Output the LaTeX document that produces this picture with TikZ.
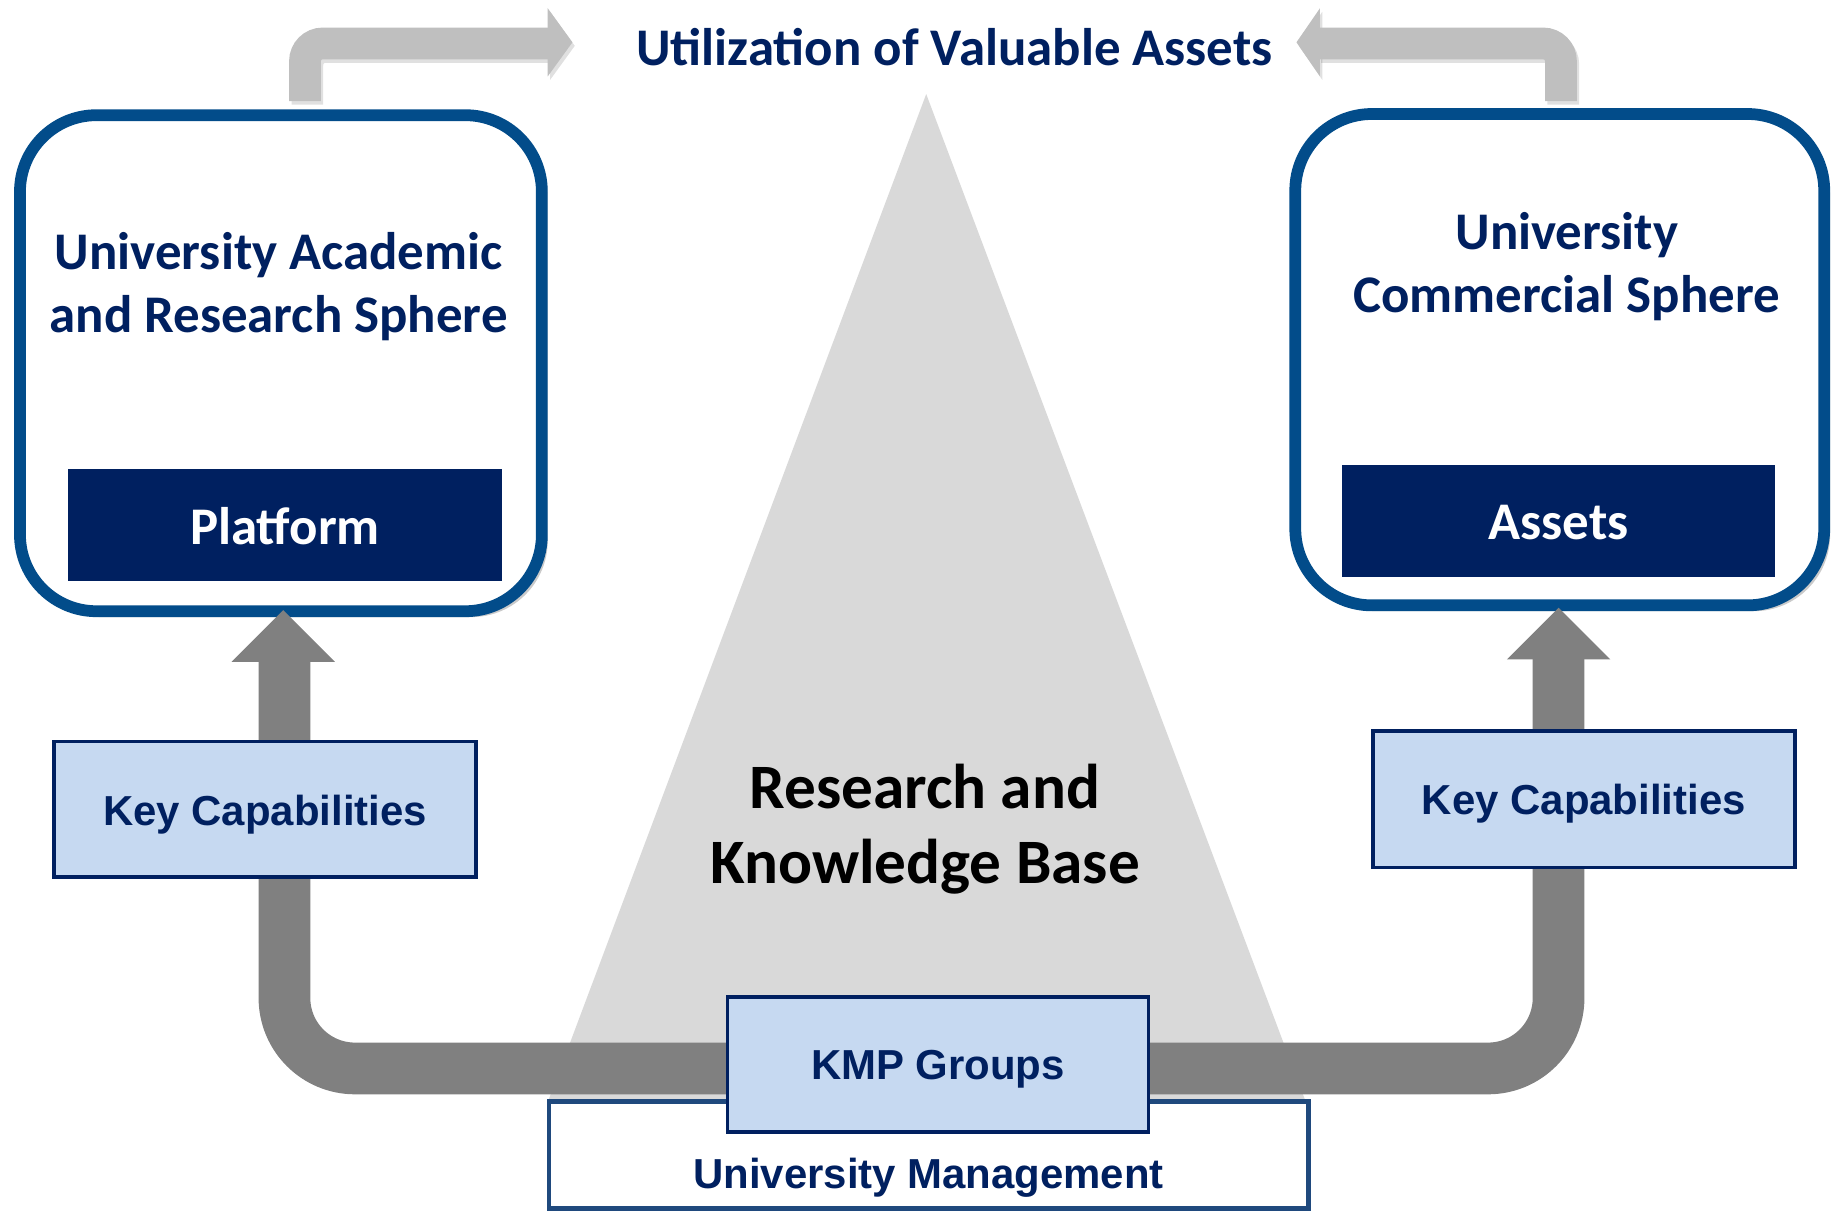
\documentclass[tikz,border=0pt]{standalone}
\usepackage{fontspec}
\setmainfont{Carlito}
\newfontfamily\arialf{Liberation Sans}
\usetikzlibrary{shadows}
\definecolor{navy}{RGB}{0,32,96}
\definecolor{boxblue}{RGB}{2,76,138}
\definecolor{umblue}{RGB}{31,73,125}
\definecolor{lightfill}{RGB}{198,217,241}
\definecolor{darkarrow}{RGB}{128,128,128}
\definecolor{lightarrow}{RGB}{191,191,191}
\definecolor{trigray}{RGB}{217,217,217}
\tikzset{
  roundbox/.style={draw=boxblue, line width=6pt, fill=white, rounded corners=39pt,
    drop shadow={shadow xshift=3pt, shadow yshift=-3pt, opacity=0.35, fill=black!60}},
  darkbox/.style={fill=navy, draw=none},
  capbox/.style={draw=navy, line width=1.8pt, fill=lightfill},
  umbox/.style={draw=umblue, line width=2.4pt, fill=white},
  cal/.style={font=\bfseries\fontsize{27pt}{32pt}\selectfont, text=navy, inner sep=0pt, anchor=base},
  calw/.style={cal, text=white},
  calbig/.style={font=\bfseries\fontsize{32.3pt}{38pt}\selectfont, text=black, inner sep=0pt, anchor=base},
  ari/.style={font=\arialf\bfseries\fontsize{21.4pt}{25pt}\selectfont, text=navy, inner sep=0pt, anchor=base},
  toparrow/.style={draw=lightarrow, line width=16.2pt, rounded corners=9pt},
  topshadow/.style={draw=black, opacity=0.12, line width=16.2pt, rounded corners=9pt},
  bigarrow/.style={draw=darkarrow, line width=26.4pt, rounded corners=36pt},
}
\begin{document}
\begin{tikzpicture}[x=0.6pt,y=-0.6pt]
\useasboundingbox (0,0) rectangle (1568,1031);

% research triangle
\fill[trigray] (788,80) -- (467,935) -- (1110,935) -- cycle;

% title
\node[cal] (title) at (812,56) {Utilization of Valuable Assets};

% top arrows
\coordinate (tlA) at (259.5,86);
\coordinate (tlB) at (259.5,37);
\coordinate (tlC) at (467,37);
\coordinate (trA) at (1328,86);
\coordinate (trB) at (1328,37);
\coordinate (trC) at (1122,37);
\draw[topshadow] ([shift={(2,3)}]tlA) -- ([shift={(2,3)}]tlB) -- ([shift={(2,3)}]tlC);
\draw[topshadow] ([shift={(2,3)}]trA) -- ([shift={(2,3)}]trB) -- ([shift={(2,3)}]trC);
\fill[black, opacity=0.12] (468,10) -- (489,39) -- (468,68) -- cycle;
\fill[black, opacity=0.12] (1125,10) -- (1105,39) -- (1125,68) -- cycle;
\draw[toparrow] (tlA) -- (tlB) -- (tlC);
\fill[lightarrow] (466,7) -- (487,36) -- (466,65) -- cycle;
\draw[toparrow] (trA) -- (trB) -- (trC);
\fill[lightarrow] (1123,7) -- (1103,36) -- (1123,65) -- cycle;

% sphere boxes
\node[roundbox, minimum width=266.4pt, minimum height=253.2pt] (L) at (239,309) {};
\node[roundbox, minimum width=270pt, minimum height=250.8pt] (R) at (1327,306) {};
\node[cal] (Lt1) at (237,229) {University Academic};
\node[cal] (Lt2) at (237,283) {and Research Sphere};
\node[cal] (Rt1) at (1333,212) {University};
\node[cal] (Rt2) at (1333,266) {Commercial Sphere};
\node[darkbox, minimum width=221.4pt, minimum height=57pt] (plat) at (242.5,446.5) {};
\node[calw] (platt) at (242.5,463) {Platform};
\node[darkbox, minimum width=220.8pt, minimum height=57pt] (assets) at (1326,443.5) {};
\node[calw] (assetst) at (1326,459) {Assets};

% research text
\node[calbig] (rk1) at (787,688) {Research and};
\node[calbig] (rk2) at (787,752) {Knowledge Base};

% big loop arrow
\coordinate (bl) at (242,562);
\coordinate (blc) at (242,909);
\coordinate (brc) at (1326,909);
\coordinate (br) at (1326,560);
\draw[bigarrow] (bl) -- (blc) -- (brc) -- (br);
\fill[darkarrow] (197,563) -- (241,519) -- (285,563) -- cycle;
\fill[darkarrow] (1282,561) -- (1326,517) -- (1370,561) -- cycle;

% university management and KMP
\node[umbox, minimum width=387.6pt, minimum height=54.6pt] (um) at (790,982.5) {};
\node[ari] (umt) at (790,1011) {University Management};
\node[capbox, minimum width=214.8pt, minimum height=69pt] (kmp) at (798,905.5) {};
\node[ari] (kmpt) at (798,918) {KMP Groups};

% key capabilities
\node[capbox, minimum width=215.4pt, minimum height=69pt] (kcl) at (225.5,688.5) {};
\node[ari] (kclt) at (225.5,702) {Key Capabilities};
\node[capbox, minimum width=215.4pt, minimum height=69.6pt] (kcr) at (1347.5,680) {};
\node[ari] (kcrt) at (1347.5,693) {Key Capabilities};
\end{tikzpicture}
\end{document}
